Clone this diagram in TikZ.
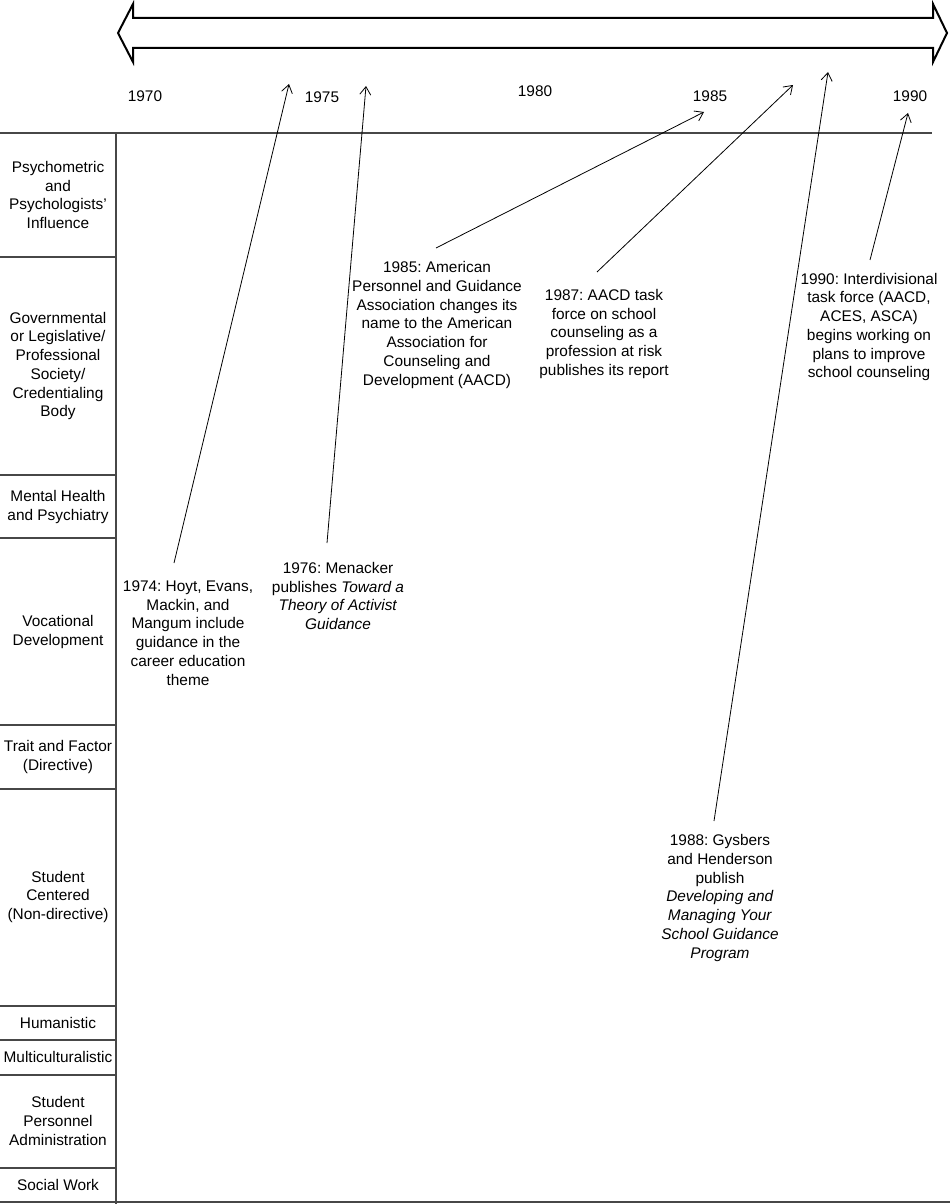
\documentclass[tikz,border=0pt]{standalone}
\usepackage{fontspec}
\setmainfont{Liberation Sans}
\usetikzlibrary{arrows.meta}
\frenchspacing
\begin{document}
\begin{tikzpicture}[x=1pt,y=-1pt,
  lbl/.style={align=center,font=\fontsize{15.4}{18.7}\selectfont,inner sep=0pt},
  yr/.style={font=\fontsize{15.4}{18}\selectfont,inner sep=0pt},
  rule/.style={draw=black!72,line width=1.6pt},
  sep/.style={draw=black!72,line width=1.2pt},
  ptr/.style={draw=black,line width=0.8pt,-{Straight Barb[length=8pt,width=11pt,line width=0.8pt]}},
  bigarrow/.style={draw=black,line width=2pt,fill=white,line join=miter}]
\useasboundingbox (0,0) rectangle (950,1204);

% big double arrow
\draw[bigarrow] (118,33) -- (133,4) -- (133,18) -- (933,18) -- (933,4) -- (947,33)
  -- (933,62) -- (933,48) -- (133,48) -- (133,62) -- cycle;

% years
\node[yr] (y1970) at (145,96) {1970};
\node[yr] (y1975) at (322,97) {1975};
\node[yr] (y1980) at (535,91) {1980};
\node[yr] (y1985) at (710,96) {1985};
\node[yr] (y1990) at (910,96) {1990};

% grid
\coordinate (hl) at (0,133);
\coordinate (hr) at (932,133);
\coordinate (vt) at (116,133);
\coordinate (vb) at (116,1204);
\coordinate (bl) at (0,1202);
\coordinate (br) at (950,1202);
\draw[rule] (hl) -- (hr);
\draw[sep] (vt) -- (vb);
\draw[rule] (bl) -- (br);
\foreach \yy in {257,475,538,725,789,1006,1040,1075,1168}
  \draw[sep] (0,\yy) -- (116,\yy);

% row labels
\node[lbl] (r1) at (58,195) {Psychometric\\and\\Psychologists'\\Influence};
\node[lbl] (r2) at (58,366) {Governmental\\or Legislative/\\Professional\\Society/\\Credentialing\\Body};
\node[lbl] (r3) at (58,507) {Mental Health\\and Psychiatry};
\node[lbl] (r4) at (58,632) {Vocational\\Development};
\node[lbl] (r5) at (58,757) {Trait and Factor\\(Directive)};
\node[lbl] (r6) at (58,897) {Student\\Centered\\(Non-directive)};
\node[lbl] (r7) at (58,1023) {Humanistic};
\node[lbl] (r8) at (58,1057) {Multiculturalistic};
\node[lbl] (r9) at (58,1121) {Student\\Personnel\\Administration};
\node[lbl] (r10) at (58,1185) {Social Work};

% events
\node[lbl] (e74) at (188,633) {1974: Hoyt, Evans,\\Mackin, and\\Mangum include\\guidance in the\\career education\\theme};
\node[lbl] (e76) at (338,596) {1976: Menacker\\publishes \textit{Toward a}\\\textit{Theory of Activist}\\\textit{Guidance}};
\node[lbl] (e85) at (437,325) {1985: American\\Personnel and Guidance\\Association changes its\\name to the American\\Association for\\Counseling and\\Development (AACD)};
\node[lbl] (e87) at (604,334) {1987: AACD task\\force on school\\counseling as a\\profession at risk\\publishes its report};
\node[lbl] (e88) at (720,898) {1988: Gysbers\\and Henderson\\publish\\\textit{Developing and}\\\textit{Managing Your}\\\textit{School Guidance}\\\textit{Program}};
\node[lbl] (e90) at (869,327) {1990: Interdivisional\\task force (AACD,\\ACES, ASCA)\\begins working on\\plans to improve\\school counseling};

% pointer ends
\coordinate (s74) at (174,563); \coordinate (t74) at (289,84);
\coordinate (s76) at (327,543); \coordinate (t76) at (366,86);
\coordinate (s85) at (436,248); \coordinate (t85) at (704,112);
\coordinate (s87) at (597,272); \coordinate (t87) at (793,85);
\coordinate (s88) at (714,821); \coordinate (t88) at (828,72);
\coordinate (s90) at (870,260); \coordinate (t90) at (908,113);
\draw[ptr] (s74) -- (t74);
\draw[ptr] (s76) -- (t76);
\draw[ptr] (s85) -- (t85);
\draw[ptr] (s87) -- (t87);
\draw[ptr] (s88) -- (t88);
\draw[ptr] (s90) -- (t90);
\end{tikzpicture}
\end{document}
